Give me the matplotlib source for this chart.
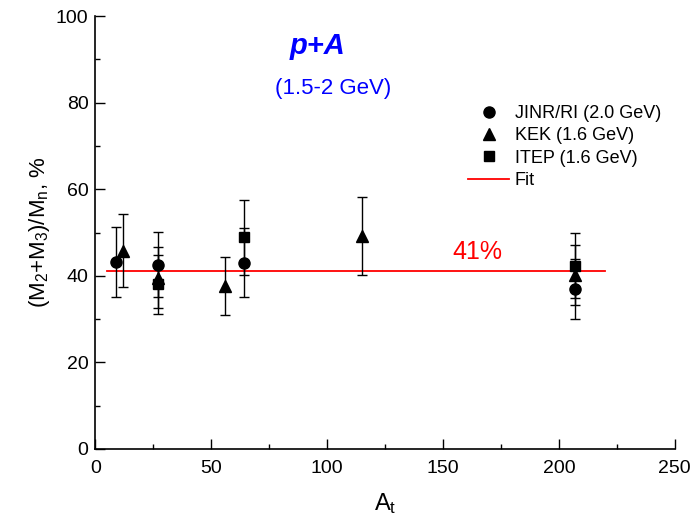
import matplotlib
matplotlib.use("Agg")
import matplotlib.pyplot as plt
from matplotlib.lines import Line2D

plt.rcParams['font.family'] = ['Liberation Sans', 'DejaVu Sans']
plt.rcParams['mathtext.fontset'] = 'custom'
plt.rcParams['mathtext.rm'] = 'Liberation Sans'
plt.rcParams['mathtext.it'] = 'Liberation Sans:italic'

# JINR/RI (2.0 GeV)
jinr_a = [9, 27, 64, 207]
jinr_r = [43.2, 42.6, 43.0, 37.0]
jinr_err = [8.0, 7.6, 8.0, 7.0]

# KEK (1.6 GeV)
kek_a = [12, 27, 56, 115, 207]
kek_r = [45.8, 39.6, 37.6, 49.2, 40.2]
kek_err = [8.4, 7.0, 6.7, 8.9, 7.0]

# ITEP (1.6 GeV)
itep_a = [27, 64, 207]
itep_r = [38.0, 48.9, 42.3]
itep_err = [6.8, 8.7, 7.5]

# constant fit
fit_a = [5, 220]
fit_value = 41

fig = plt.figure(figsize=(6.92, 5.22), dpi=100)
ax = fig.add_axes([0.138, 0.140, 0.837, 0.829])

err_kw = dict(ls='none', color='black', ecolor='black', elinewidth=1.0,
              capsize=3.3, capthick=1.0, zorder=4)
ax.errorbar(jinr_a, jinr_r, yerr=jinr_err, fmt='o', ms=8, **err_kw)
ax.errorbar(kek_a, kek_r, yerr=kek_err, fmt='^', ms=9, **err_kw)
ax.errorbar(itep_a, itep_r, yerr=itep_err, fmt='s', ms=6.5, **err_kw)
ax.plot(fit_a, [fit_value, fit_value], color='red', lw=1.3, zorder=3)

ax.text(165, 45.5, f'{fit_value}%', color='red', fontsize=18, ha='center', va='center')
ax.text(96, 93, 'p+A', color='blue', fontsize=21, fontweight='bold', fontstyle='italic',
        ha='center', va='center')
ax.text(102.5, 83.4, '(1.5-2 GeV)', color='blue', fontsize=16, ha='center', va='center')

ax.set_xlim(0, 250)
ax.set_ylim(0, 100)
ax.set_xticks([0, 50, 100, 150, 200, 250])
ax.set_xticks([25, 75, 125, 175, 225], minor=True)
ax.set_yticks([0, 20, 40, 60, 80, 100])
ax.set_yticks([10, 30, 50, 70, 90], minor=True)
ax.tick_params(which='both', direction='in', width=1.0, labelsize=14)
ax.tick_params(which='major', length=7)
ax.tick_params(which='minor', length=3.5)
ax.tick_params(axis='x', pad=8)
ax.tick_params(axis='y', pad=5)

for side in ['top', 'right']:
    ax.spines[side].set_visible(False)
for side in ['left', 'bottom']:
    ax.spines[side].set_linewidth(1.2)

ax.set_xlabel('A$_\\mathregular{t}$', fontsize=17, labelpad=10)
ax.set_ylabel('(M$_\\mathregular{2}$+M$_\\mathregular{3}$)/M$_\\mathregular{n}$, %',
              fontsize=16, labelpad=3)

handles = [
    Line2D([], [], ls='none', marker='o', ms=8, color='black'),
    Line2D([], [], ls='none', marker='^', ms=9, color='black'),
    Line2D([], [], ls='none', marker='s', ms=6.5, color='black'),
    Line2D([], [], color='red', lw=1.3),
]
labels = ['JINR/RI (2.0 GeV)', 'KEK (1.6 GeV)', 'ITEP (1.6 GeV)', 'Fit']
ax.legend(handles, labels, loc='upper left', bbox_to_anchor=(0.643, 0.795),
          frameon=False, fontsize=13, handlelength=2.3, handletextpad=0.3,
          labelspacing=0.3, borderpad=0, borderaxespad=0)

fig.savefig('out.png', dpi=100)
